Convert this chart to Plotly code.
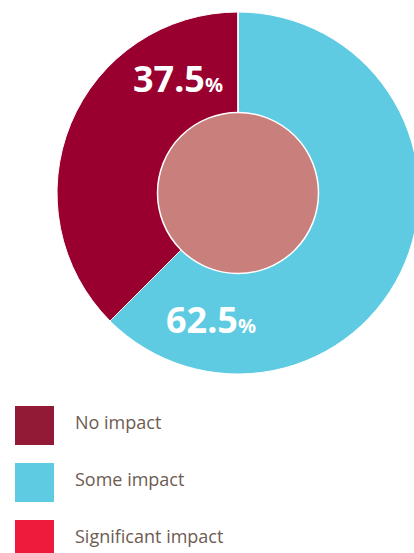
import plotly.graph_objects as go

# Survey result: share of respondents by level of impact
categories = ["No impact", "Some impact", "Significant impact"]
shares = [37.5, 62.5, 0.0]
slice_colors = ["#990030", "#5ECBE3", "#EE1B3C"]
legend_colors = ["#931A36", "#5ECBE3", "#EE1B3C"]
hole_color = "#C97F7C"

W, H = 420, 553          # canvas slightly wider than the viewport so the ring bleeds off the right edge
CX, CY, R = 238, 193, 181  # ring centre / radius in pixels (y from top)
R_IN = 80.5


def px(x):
    return x / W


def py(y):
    return 1 - y / H


fig = go.Figure()

# Outer ring: drawn clockwise from 12 o'clock, "Some impact" first so that
# "No impact" ends up on the left-hand side
ring_order = [1, 0, 2]
fig.add_trace(go.Pie(
    labels=[categories[i] for i in ring_order],
    values=[shares[i] for i in ring_order],
    marker=dict(colors=[slice_colors[i] for i in ring_order],
                line=dict(color="white", width=1)),
    sort=False,
    direction="clockwise",
    rotation=0,
    textinfo="none",
    hoverinfo="label+percent",
    showlegend=False,
    domain=dict(x=[px(CX - R), px(CX + R)], y=[py(CY + R), py(CY - R)]),
))

# Filled centre disc
fig.add_trace(go.Pie(
    labels=["centre"],
    values=[1],
    marker=dict(colors=[hole_color], line=dict(color="white", width=1.5)),
    textinfo="none",
    hoverinfo="skip",
    showlegend=False,
    domain=dict(x=[px(CX - R_IN), px(CX + R_IN)], y=[py(CY + R_IN), py(CY - R_IN)]),
))

# Percentage labels on the slices
label_pos = {"No impact": (178, 79), "Some impact": (211, 319)}
annotations = []
for cat, val in zip(categories, shares):
    if cat not in label_pos:
        continue
    x, y = label_pos[cat]
    annotations.append(dict(
        x=px(x), y=py(y), xref="paper", yref="paper",
        xanchor="center", yanchor="middle", showarrow=False,
        text=f"<b>{val:g}</b><span style='font-size:20px'><b>%</b></span>",
        font=dict(family="Noto Sans", size=36, color="white"),
    ))

# Legend drawn as square swatches with labels
shapes = []
SW, TOP0, STEP = 39, 406, 57
for i, (cat, col) in enumerate(zip(categories, legend_colors)):
    top = TOP0 + i * STEP
    shapes.append(dict(
        type="rect", xref="paper", yref="paper",
        x0=px(15), x1=px(15 + SW), y0=py(top + SW), y1=py(top),
        fillcolor=col, line=dict(width=0),
    ))
    annotations.append(dict(
        x=px(73), y=py(top + SW / 2 - 4), xref="paper", yref="paper",
        xanchor="left", yanchor="middle", showarrow=False,
        text=cat,
        font=dict(family="Open Sans", size=18, color="#6D5C52"),
    ))

fig.update_layout(
    width=W, height=H,
    margin=dict(l=0, r=0, t=0, b=0),
    paper_bgcolor="white",
    plot_bgcolor="white",
    shapes=shapes,
    annotations=annotations,
)

fig.write_html(
    "out.html",
    post_script="document.documentElement.style.overflow='hidden';document.body.style.overflow='hidden';",
)
